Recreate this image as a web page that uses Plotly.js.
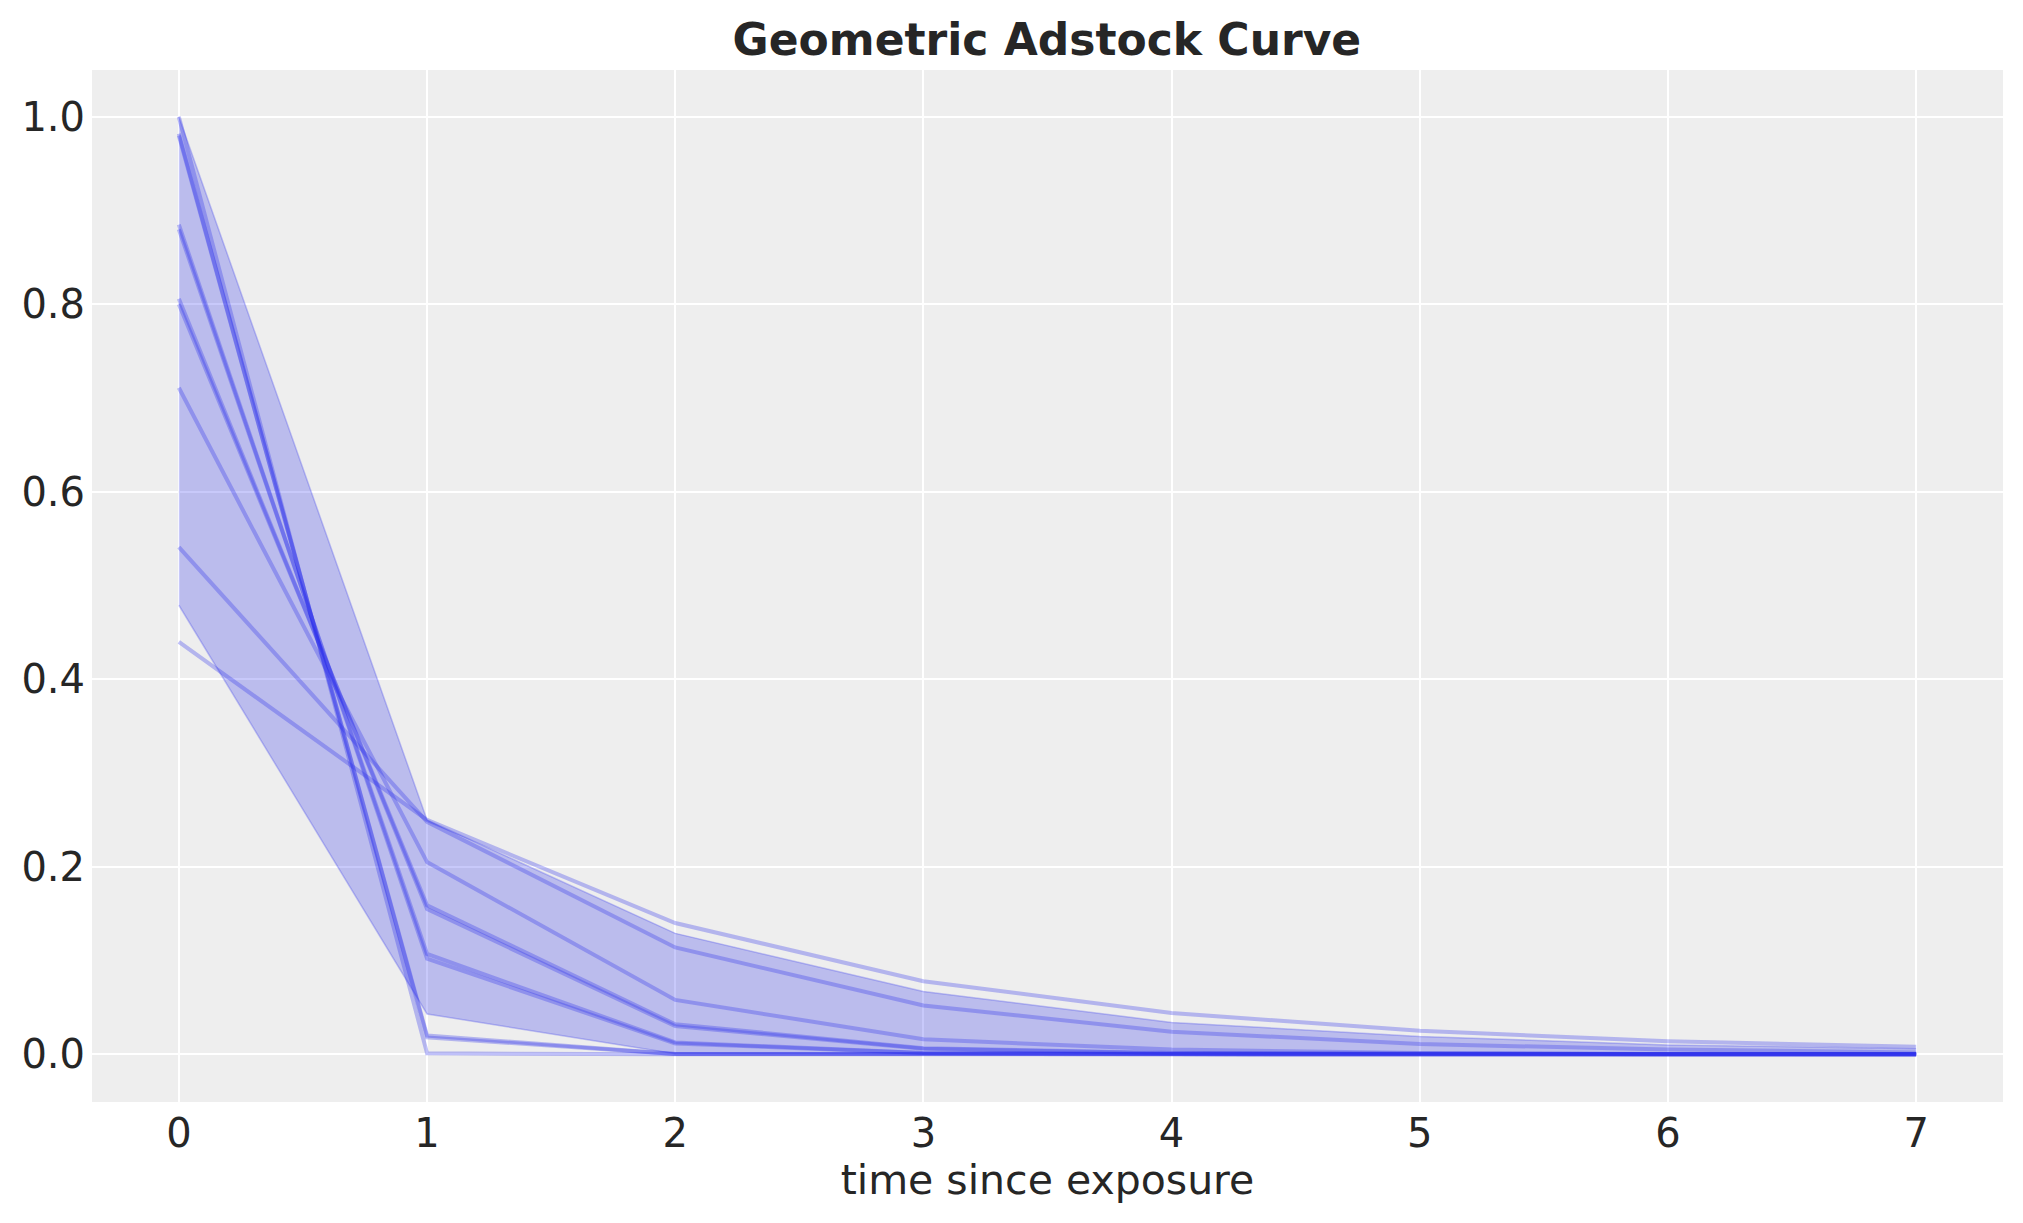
<!DOCTYPE html>
<html>
<head>
<meta charset="utf-8">
<script src="https://cdn.plot.ly/plotly-3.0.1.min.js"></script>
<style>
  html, body { margin: 0; padding: 0; background: #ffffff; }
  #myDiv { width: 2023px; height: 1223px; }
</style>
</head>
<body>
<div id="myDiv"></div>
<script>

// time since exposure
var timeSteps = [0, 1, 2, 3, 4, 5, 6, 7];

// posterior sample curves
var curve1  = [0.440, 0.250, 0.140, 0.078, 0.044, 0.025, 0.014, 0.008];
var curve2  = [0.541, 0.248, 0.114, 0.052, 0.024, 0.011, 0.005, 0.002];
var curve3  = [0.711, 0.205, 0.058, 0.016, 0.005, 0.0014, 0.0004, 0.0001];
var curve4  = [0.806, 0.155, 0.030, 0.006, 0.001, 0.0002, 0.0, 0.0];
var curve5  = [0.800, 0.159, 0.032, 0.0064, 0.0013, 0.0003, 0.0001, 0.0];
var curve6  = [0.885, 0.102, 0.0116, 0.0013, 0.0002, 0.0, 0.0, 0.0];
var curve7  = [0.880, 0.107, 0.0127, 0.0015, 0.0002, 0.0, 0.0, 0.0];
var curve8  = [0.982, 0.018, 0.0003, 0.0, 0.0, 0.0, 0.0, 0.0];
var curve9  = [0.980, 0.020, 0.0004, 0.0, 0.0, 0.0, 0.0, 0.0];
var curve10 = [1.000, 0.001, 0.0, 0.0, 0.0, 0.0, 0.0, 0.0];

// hdi band
var hdiUpper = [1.000, 0.250, 0.129, 0.067, 0.034, 0.019, 0.010, 0.006];
var hdiLower = [0.479, 0.043, 0.0005, 0.0, 0.0, 0.0, 0.0, 0.0];

var yTickValues = [0.0, 0.2, 0.4, 0.6, 0.8, 1.0];
var yTickLabels = ["0.0", "0.2", "0.4", "0.6", "0.8", "1.0"];

var allCurves = [curve1, curve2, curve3, curve4, curve5, curve6, curve7, curve8, curve9, curve10];

var lineColor = 'rgba(42, 46, 236, 0.3)';
var bandColor = 'rgba(42, 46, 236, 0.26)';
var textColor = '#262626';

var data = [];

data.push({
  x: timeSteps,
  y: hdiUpper,
  type: 'scatter',
  mode: 'lines',
  line: { color: bandColor, width: 1.5 },
  showlegend: false,
  hoverinfo: 'skip'
});
data.push({
  x: timeSteps,
  y: hdiLower,
  type: 'scatter',
  mode: 'lines',
  fill: 'tonexty',
  fillcolor: bandColor,
  line: { color: bandColor, width: 1.5 },
  showlegend: false,
  hoverinfo: 'skip'
});

for (var i = 0; i < allCurves.length; i++) {
  data.push({
    x: timeSteps,
    y: allCurves[i],
    type: 'scatter',
    mode: 'lines',
    line: { color: lineColor, width: 4 },
    showlegend: false
  });
}

var layout = {
  width: 2023,
  height: 1223,
  margin: { l: 92, r: 20, t: 70, b: 121, pad: 0 },
  paper_bgcolor: '#ffffff',
  plot_bgcolor: '#eeeeee',
  font: { family: 'DejaVu Sans', color: textColor, size: 40 },
  title: {
    text: 'Geometric Adstock Curve',
    font: { family: 'DejaVu Sans', size: 44, weight: 'bold', color: textColor },
    x: 0.5175,
    xanchor: 'center',
    yref: 'container',
    y: 1 - 40 / 1223,
    yanchor: 'middle'
  },
  xaxis: {
    range: [-0.35, 7.35],
    tickvals: timeSteps,
    ticktext: timeSteps.map(String),
    showgrid: true,
    gridcolor: '#ffffff',
    gridwidth: 2,
    zeroline: false,
    showline: false,
    ticks: '',
    ticklabelstandoff: 4,
    tickfont: { size: 40, color: textColor },
    automargin: false,
    title: {
      text: 'time since exposure',
      font: { size: 41, color: textColor },
      standoff: 8
    }
  },
  yaxis: {
    range: [-0.0509, 1.05],
    tickvals: yTickValues,
    ticktext: yTickLabels,
    showgrid: true,
    gridcolor: '#ffffff',
    gridwidth: 2,
    zeroline: false,
    showline: false,
    ticks: '',
    ticklabelstandoff: 6,
    tickfont: { size: 40, color: textColor },
    automargin: false
  }
};

Plotly.newPlot('myDiv', data, layout, { displayModeBar: false, staticPlot: true });

</script>
</body>
</html>
